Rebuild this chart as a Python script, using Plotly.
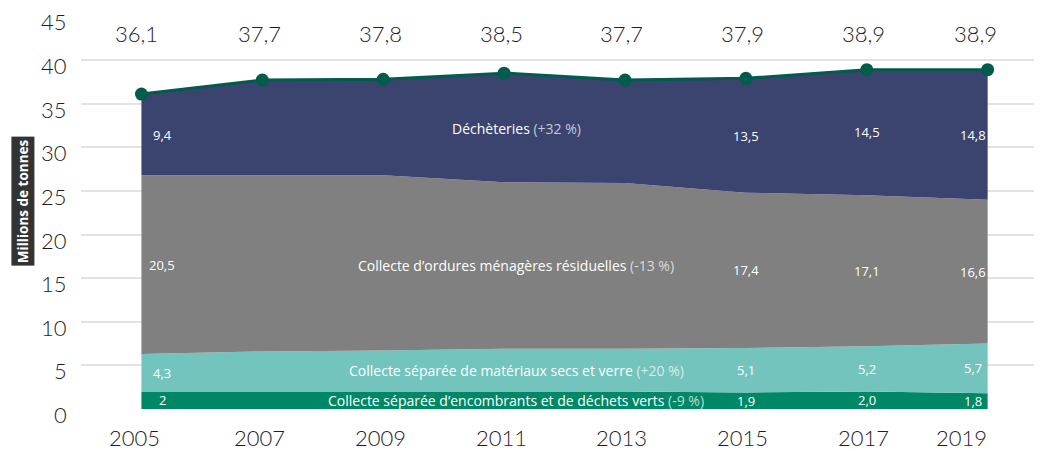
import plotly.graph_objects as go

years = [2005, 2007, 2009, 2011, 2013, 2015, 2017, 2019]
year_labels = ["2005", "2007", "2009", "2011", "2013", "2015", "2017", "2019"]
y_ticks = [0, 5, 10, 15, 20, 25, 30, 35, 40, 45]

# Layer thicknesses (millions of tonnes), bottom to top
encombrants = [2.0, 2.0, 2.0, 2.0, 2.0, 1.9, 2.0, 1.8]
materiaux = [4.3, 4.6, 4.7, 4.9, 4.9, 5.1, 5.2, 5.7]
omr = [20.5, 20.2, 20.1, 19.1, 19.0, 17.8, 17.3, 16.5]
decheteries = [9.3, 10.9, 11.0, 12.5, 11.8, 13.1, 14.4, 14.9]

totals = [36.1, 37.7, 37.8, 38.5, 37.7, 37.9, 38.9, 38.9]
total_labels = ["36,1", "37,7", "37,8", "38,5", "37,7", "37,9", "38,9", "38,9"]

# Value labels shown inside the bands (None = not shown)
lab_dech = ["9,4", None, None, None, None, "13,5", "14,5", "14,8"]
lab_omr = ["20,5", None, None, None, None, "17,4", "17,1", "16,6"]
lab_mat = ["4,3", None, None, None, None, "5,1", "5,2", "5,7"]
lab_enc = ["2", None, None, None, None, "1,9", "2,0", "1,8"]

series_names = [
    ("Collecte séparée d’encombrants et de déchets verts", "(-9 %)"),
    ("Collecte séparée de matériaux secs et verre", "(+20 %)"),
    ("Collecte d’ordures ménagères résiduelles", "(-13 %)"),
    ("Déchèteries", "(+32 %)"),
]
colors = ["#008866", "#72c4bc", "#808080", "#3b436f"]
layers = [encombrants, materiaux, omr, decheteries]
value_labels = [lab_enc, lab_mat, lab_omr, lab_dech]

BIG = "Lato"
SMALL = "Open Sans"
DARK = "#1e1e1e"

fig = go.Figure()
for vals, col, (nm, pct) in zip(layers, colors, series_names):
    fig.add_trace(go.Scatter(
        x=years, y=vals, stackgroup="one", mode="none",
        fillcolor=col, line=dict(width=0), name=nm + " " + pct,
        hoverinfo="skip",
    ))

fig.add_trace(go.Scatter(
    x=years, y=totals, mode="lines+markers",
    line=dict(color="#005c4c", width=3),
    marker=dict(color="#005c4c", size=13),
    name="Total", hoverinfo="skip",
))

annotations = []
n = len(years)


def edge_shift(i, first, last, other):
    return first if i == 0 else (last if i == n - 1 else other)


# Totals above the chart
for i, (x, t) in enumerate(zip(years, total_labels)):
    annotations.append(dict(x=x, y=43.0, text=t, showarrow=False,
                            xshift=edge_shift(i, -5, -12, -3),
                            font=dict(family=BIG, size=22, color=DARK, weight=300)))

# Year labels under the axis
for i, (x, t) in enumerate(zip(years, year_labels)):
    annotations.append(dict(x=x, y=0, yref="paper", yanchor="top", yshift=-13,
                            text=t, showarrow=False,
                            xshift=edge_shift(i, -7, -26, -3),
                            font=dict(family=BIG, size=22, color=DARK, weight=300)))

# Y tick labels (slightly below their gridlines, as in the reference)
for v in y_ticks:
    annotations.append(dict(x=0, xref="paper", xanchor="right", xshift=-12,
                            y=v, yanchor="middle", yshift=-5.5,
                            text=str(v), showarrow=False,
                            font=dict(family=BIG, size=22, color=DARK, weight=300)))

# Value labels inside bands, centred vertically in each band
base = [0.0] * n
for vals, labs in zip(layers, value_labels):
    for i in range(n):
        lab = labs[i]
        if lab is None:
            continue
        yc = base[i] + vals[i] / 2
        annotations.append(dict(x=years[i], y=yc, text=lab, showarrow=False,
                                xshift=edge_shift(i, 21, -15, 0),
                                font=dict(family=SMALL, size=13, color="white")))
    base = [b + v for b, v in zip(base, vals)]

# Series name labels in the middle of each band
base = [0.0] * n
mid = 3.1
for vals, (nm, pct) in zip(layers, series_names):
    i0 = int(mid)
    f = mid - i0
    b = base[i0] * (1 - f) + base[i0 + 1] * f
    v = vals[i0] * (1 - f) + vals[i0 + 1] * f
    yc = b + v / 2
    annotations.append(dict(
        x=years[0] + (years[1] - years[0]) * mid, y=yc,
        text=f"{nm} <span style='color:rgba(255,255,255,0.72)'>{pct}</span>",
        showarrow=False, font=dict(family=SMALL, size=14, color="white")))
    base = [bb + vv for bb, vv in zip(base, vals)]

# Y-axis title in a dark box
annotations.append(dict(
    xref="paper", yref="paper", x=-0.0607, y=0.529, xanchor="center", yanchor="middle",
    text="<b>Millions de tonnes</b>", textangle=-90, showarrow=False,
    bgcolor="#333333", borderpad=2,
    font=dict(family=SMALL, size=13.5, color="white")))

fig.update_layout(
    width=1042, height=451,
    margin=dict(l=73, r=14, t=7.5, b=50, autoexpand=False),
    paper_bgcolor="white", plot_bgcolor="white",
    showlegend=False,
    annotations=annotations,
    xaxis=dict(range=[2004, 2019.8], showticklabels=False,
               showgrid=False, zeroline=False, showline=False, ticks="",
               automargin=False),
    yaxis=dict(range=[0, 45.05], tickvals=y_ticks, showticklabels=False,
               showgrid=True, gridcolor="#e3e3e3",
               gridwidth=1.5, zeroline=False, showline=False, ticks="",
               automargin=False),
)

fig.write_html("out.html")
